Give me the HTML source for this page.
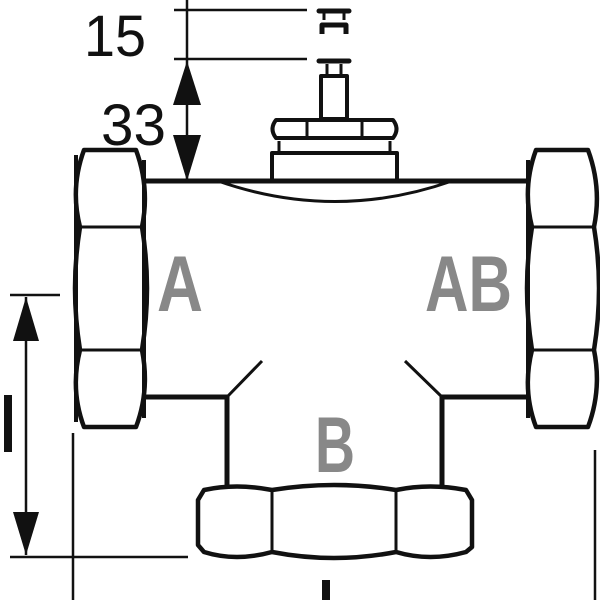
<!DOCTYPE html>
<html><head><style>html,body{margin:0;padding:0;background:#fff}svg{display:block}</style></head>
<body>
<svg width="600" height="600" viewBox="0 0 600 600" xmlns="http://www.w3.org/2000/svg">
<g fill="none" stroke="#111" stroke-linejoin="round">
<!-- body -->
<path d="M145 181 H527" stroke-width="5"/>
<path d="M145 397 H227 V488 M527 397 H442 V488" stroke-width="5"/>
<path d="M227 397 L262 361 M442 397 L405 361" stroke-width="3"/>
<path d="M218 181 Q335 222 452 181" stroke-width="3"/>
<!-- left nut -->
<path d="M84 150 H136 Q150 188 142 227 Q152 288 142 350 Q150 390 136 427 H84 Q70 390 80 350 Q70 288 80 227 Q70 188 84 150 Z" stroke-width="4.5"/>
<path d="M80 227 H142 M80 350 H142" stroke-width="3"/>
<path d="M76 155 V422 M144 160 V418" stroke-width="4"/>
<!-- right nut -->
<path d="M536 150 H588 Q602 188 594 227 Q604 288 594 350 Q602 390 588 427 H536 Q522 390 532 350 Q522 288 532 227 Q522 188 536 150 Z" stroke-width="4.5"/>
<path d="M532 227 H594 M532 350 H594" stroke-width="3"/>
<path d="M528 160 V418" stroke-width="4"/>
<!-- bottom nut -->
<path d="M204 490 Q236 483 272 490 Q334 480 396 490 Q430 483 466 490 L472 500 V547 L466 552 Q430 562 396 552 Q334 564 272 552 Q236 562 204 552 L198 545 V500 Z" stroke-width="4.5"/>
<path d="M272 490 V552 M396 490 V552" stroke-width="3"/>
<!-- actuator -->
<rect x="272" y="153" width="125" height="28" stroke-width="4"/>
<path d="M279 153 V141 M390 153 V141" stroke-width="3"/>
<path d="M276 120 H393 Q400 129 393 138 H276 Q269 129 276 120 Z" stroke-width="4"/>
<path d="M307 120 V138 M362 120 V138" stroke-width="3"/>
<rect x="321" y="76" width="26" height="43" stroke-width="4"/>
<path d="M327 76 V64 M341 76 V64" stroke-width="3"/>
<path d="M319 61 H349" stroke-width="5" stroke-linecap="round"/>
<path d="M319 11 H349" stroke-width="5" stroke-linecap="round"/>
<path d="M324 11 V20 M344 11 V20" stroke-width="3"/>
<path d="M322 34 V25 H346 V34" stroke-width="5"/>
<!-- dimensions top -->
<path d="M187 0 V181 M174 10 H307 M174 59 H307" stroke-width="2.5"/>
<!-- dimension left -->
<path d="M10 295 H60 M10 557 H188 M26 297 V555 M73 433 V600 M595 450 V600" stroke-width="2.5"/>
</g>
<g fill="#111">
<path d="M187 61 L173 105 H201 Z"/>
<path d="M187 181 L173 135 H201 Z"/>
<path d="M26 297 L13 341 H39 Z"/>
<path d="M26 555 L13 512 H39 Z"/>
<rect x="4" y="395" width="8" height="57"/>
<rect x="322" y="580" width="8" height="20"/>
</g>
<g font-family="Liberation Sans Narrow, Liberation Sans, sans-serif" fill="#111" font-size="58">
<text x="84" y="56" textLength="62" lengthAdjust="spacingAndGlyphs">15</text>
<text x="101" y="145" textLength="65" lengthAdjust="spacingAndGlyphs">33</text>
</g>
<g font-family="Liberation Sans Narrow, Liberation Sans, sans-serif" font-weight="bold" fill="#888" font-size="79">
<text x="157" y="311" textLength="46" lengthAdjust="spacingAndGlyphs">A</text>
<text x="425" y="311" textLength="87" lengthAdjust="spacingAndGlyphs">AB</text>
<text x="315" y="472" textLength="40" lengthAdjust="spacingAndGlyphs">B</text>
</g>
</svg>
</body></html>
